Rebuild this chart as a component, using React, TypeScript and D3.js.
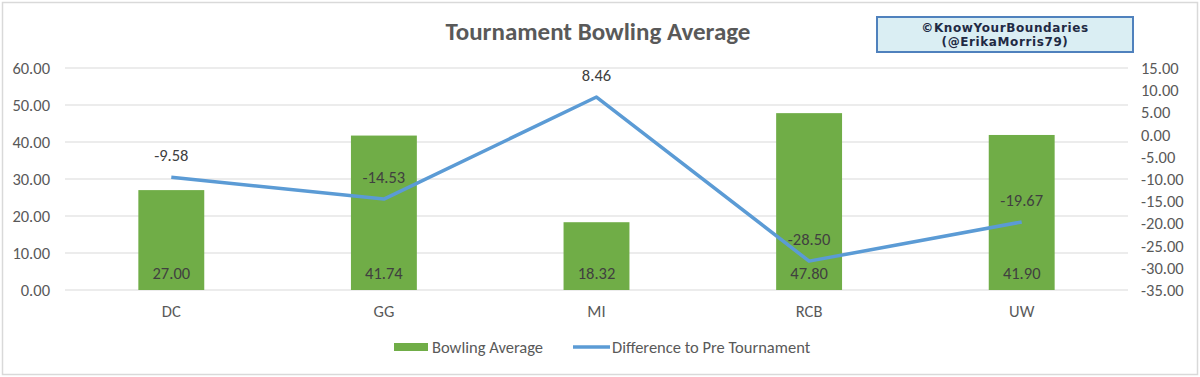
import React from "react";
import * as d3 from "d3";

const categories = ["DC", "GG", "MI", "RCB", "UW"];
const bowlingAverage = [27.0, 41.74, 18.32, 47.8, 41.9];
const difference = [-9.58, -14.53, 8.46, -28.5, -19.67];
const leftTicks = [0, 10, 20, 30, 40, 50, 60];
const rightTicks = [15, 10, 5, 0, -5, -10, -15, -20, -25, -30, -35];
const title = "Tournament Bowling Average";
const watermark = ["©KnowYourBoundaries", "(@ErikaMorris79)"];
const seriesNames = ["Bowling Average", "Difference to Pre Tournament"];

const W = 1200;
const H = 377;
const plotLeft = 65;
const plotRight = 1128;
const plotTop = 68;
const plotBottom = 290;
const font = "Carlito, Calibri, 'Open Sans', 'Noto Sans', sans-serif";
const textColor = "#595959";
const barColor = "#70AD47";
const lineColor = "#5B9BD5";
const fs = 16.5;

export default function App() {
  const x = d3.scaleBand<string>().domain(categories).range([plotLeft, plotRight]).paddingInner(0).paddingOuter(0);
  const yL = d3.scaleLinear().domain([0, 60]).range([plotBottom, plotTop]);
  const yR = d3.scaleLinear().domain([-35, 15]).range([plotBottom, plotTop]);
  const barW = x.bandwidth() * 0.31;
  const cx = (c: string) => (x(c) as number) + x.bandwidth() / 2;
  const line = d3
    .line<number>()
    .x((_, i) => cx(categories[i]))
    .y((d) => yR(d));

  return (
    <svg width={W} height={H} style={{ position: "absolute", left: 0, top: 0, display: "block" }} fontFamily={font}>
      <rect x={0} y={0} width={W} height={H} fill="#fff" />
      <rect x={2.5} y={2.5} width={W - 5} height={H - 5} fill="none" stroke="#d9d9d9" strokeWidth={1.5} />
      <text x={598} y={40} textAnchor="middle" fontSize={25} fontWeight="bold" fill={textColor}>
        {title}
      </text>
      <rect x={877} y={17} width={256} height={35} fill="#DAEEF3" stroke="#4F81BD" strokeWidth={2} />
      <text x={1005} y={32} textAnchor="middle" fontSize={12} fontWeight="bold" fill="#1F2A44" fontFamily="'DejaVu Sans', sans-serif" letterSpacing={0.6}>
        {watermark[0]}
      </text>
      <text x={1005} y={46} textAnchor="middle" fontSize={12} fontWeight="bold" fill="#1F2A44" fontFamily="'DejaVu Sans', sans-serif" letterSpacing={0.6}>
        {watermark[1]}
      </text>
      {leftTicks.map((t) => (
        <g key={"l" + t}>
          <line x1={plotLeft} x2={plotRight} y1={yL(t)} y2={yL(t)} stroke="#d9d9d9" strokeWidth={1} />
          <text x={50} y={yL(t) + 6} textAnchor="end" fontSize={fs} fill={textColor}>
            {t.toFixed(2)}
          </text>
        </g>
      ))}
      {rightTicks.map((t) => (
        <text key={"r" + t} x={1141} y={yR(t) + 6} textAnchor="start" fontSize={fs} fill={textColor}>
          {t.toFixed(2)}
        </text>
      ))}
      {categories.map((c, i) => (
        <g key={c}>
          <rect x={cx(c) - barW / 2} y={yL(bowlingAverage[i])} width={barW} height={yL(0) - yL(bowlingAverage[i])} fill={barColor} />
          <text x={cx(c)} y={yL(0) - 11} textAnchor="middle" fontSize={fs} fill="#404040">
            {bowlingAverage[i].toFixed(2)}
          </text>
          <text x={cx(c)} y={317} textAnchor="middle" fontSize={fs} fill={textColor}>
            {c}
          </text>
        </g>
      ))}
      <path d={line(difference) || ""} fill="none" stroke={lineColor} strokeWidth={3.5} strokeLinejoin="round" />
      {categories.map((c, i) => (
        <text key={"d" + c} x={cx(c)} y={yR(difference[i]) - 16} textAnchor="middle" fontSize={fs} fill="#404040">
          {difference[i].toFixed(2)}
        </text>
      ))}
      <rect x={394} y={343} width={34} height={8} fill={barColor} />
      <text x={432} y={353} fontSize={fs} fill={textColor}>
        {seriesNames[0]}
      </text>
      <line x1={573} x2={610} y1={347} y2={347} stroke={lineColor} strokeWidth={3.5} />
      <text x={612} y={353} fontSize={fs} fill={textColor}>
        {seriesNames[1]}
      </text>
    </svg>
  );
}
